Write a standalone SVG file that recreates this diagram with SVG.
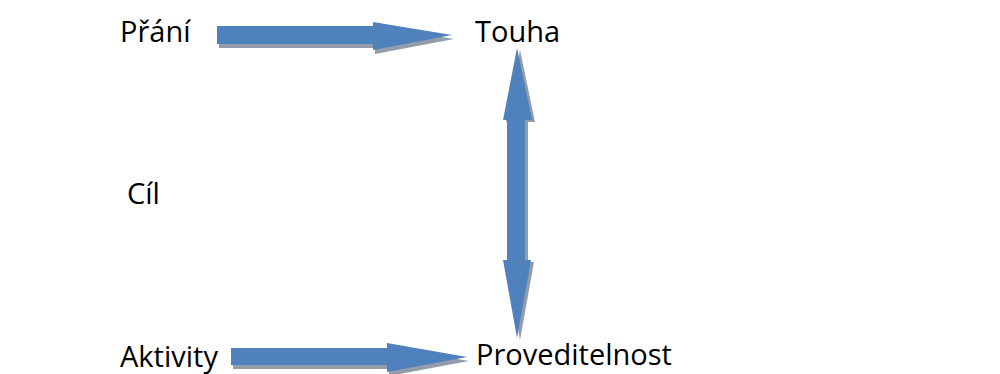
<svg xmlns="http://www.w3.org/2000/svg" width="1000" height="374" viewBox="0 0 1000 374">
<style>
.t{font-family:"Open Sans","Liberation Sans",sans-serif;font-size:29px;fill:#000}
.a{fill:#4f81bd}
.s{fill:#929cab}
</style>
<rect width="1000" height="374" fill="#fff"/>
<g id="connectors">
<g id="arrow-top">
<polygon class="s" points="219,30 375,30 375,26 454,39 375,54 375,48 219,48"/>
<polygon class="a" points="217,26 373,26 373,22 452,35 373,50 373,44 217,44"/>
</g>
<g id="arrow-bottom">
<polygon class="s" points="233,352 389,352 389,347 469,361 389,376 389,369 233,369"/>
<polygon class="a" points="231,348 387,348 387,343 467,357 387,372 387,365 231,365"/>
</g>
<g id="arrow-vertical">
<polygon class="s" points="520,50 535,122 528,122 528,262 534,262 520,340 506,262 510,262 510,122 506,122"/>
<polygon class="a" points="517,48 532,120 525,120 525,260 531,260 517,338 503,260 507,260 507,120 503,120"/>
</g>
</g>
<g id="node-prani"><text class="t" x="120" y="42">Přání</text></g>
<g id="node-touha"><text class="t" x="475" y="42">Touha</text></g>
<g id="node-cil"><text class="t" x="127" y="204">Cíl</text></g>
<g id="node-aktivity"><text class="t" x="120" y="367">Aktivity</text></g>
<g id="node-proveditelnost"><text class="t" x="476" y="365">Proveditelnost</text></g>
</svg>
